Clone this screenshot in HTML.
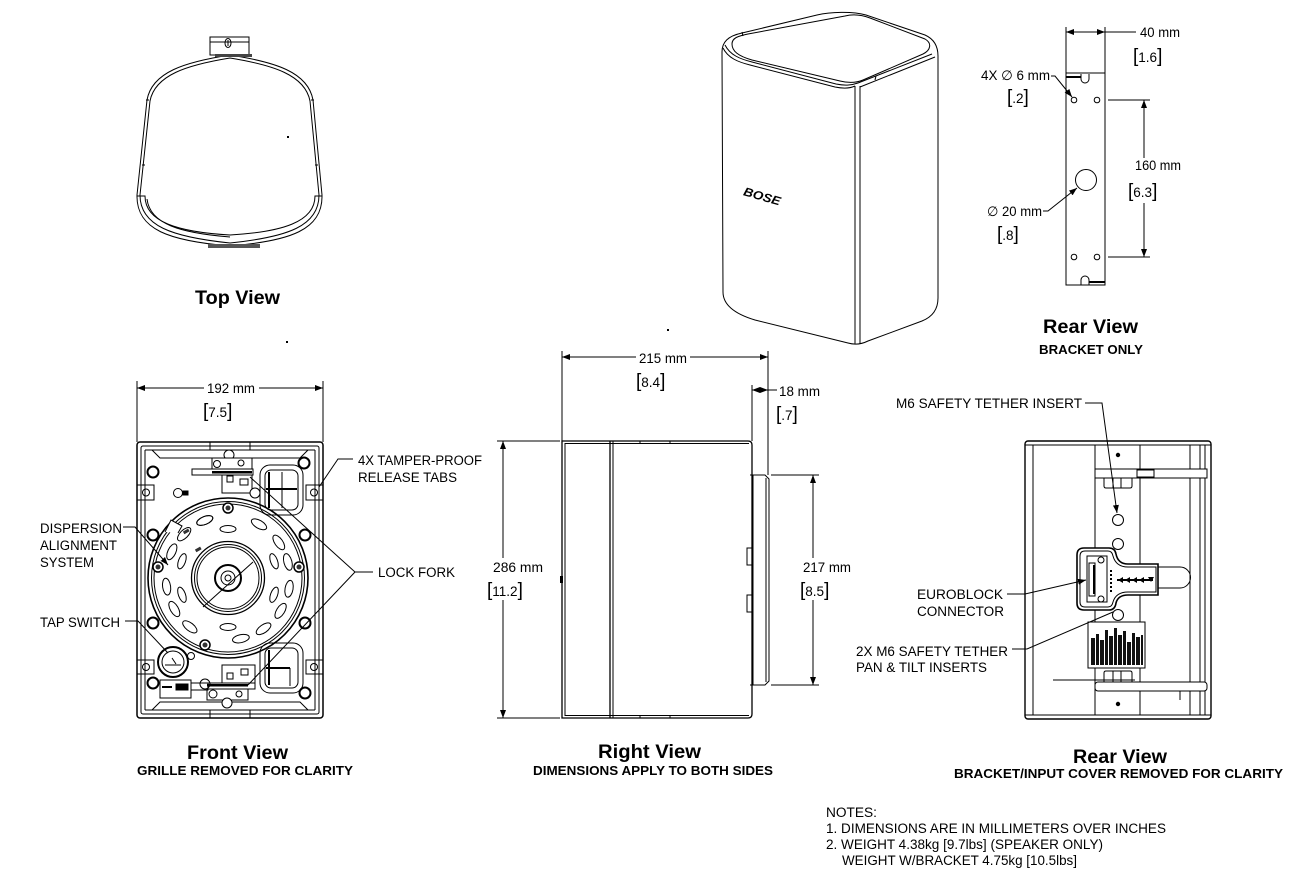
<!DOCTYPE html>
<html><head><meta charset="utf-8"><style>
html,body{margin:0;padding:0;background:#fff;}
svg{display:block;}
text{font-family:"Liberation Sans",Arial,"DejaVu Sans",sans-serif;fill:#000;}
.l{font-size:13.5px;}
.t{font-size:19px;font-weight:bold;}
.s{font-size:12.5px;font-weight:bold;}
.b{font-size:19px;}
</style></head><body>
<svg width="1300" height="877" viewBox="0 0 1300 877" xmlns="http://www.w3.org/2000/svg">
<defs>
<marker id="a" viewBox="0 0 8 6" refX="8" refY="3" markerWidth="8" markerHeight="6" markerUnits="userSpaceOnUse" orient="auto-start-reverse"><path d="M0,0 L8,3 L0,6 z" fill="#000"/></marker>
</defs>
<rect width="1300" height="877" fill="#fff"/>

<!-- ================= TOP VIEW ================= -->
<g fill="none" stroke="#000" stroke-width="1">
<rect x="210" y="37" width="39" height="18"/>
<line x1="210" y1="42" x2="249" y2="42"/>
<ellipse cx="228" cy="43" rx="3" ry="4.5"/>
<line x1="228" y1="40" x2="228" y2="46"/>
<path d="M147,100 C152,72 185,62 230,55 C275,62 308,72 313,100 L322,195 C323,230 290,241 230,246 C170,241 136,230 137,195 Z"/>
<path d="M150,101 C155,75 187,65 230,58 C273,65 305,75 310,101 L319,195 C319,226 288,237 230,243 C172,237 140,226 140,195 Z"/>
<path d="M137,196 H145 C145,222 178,232 230,235 C282,232 315,222 315,196 H322"/>
<path d="M147,199 C150,224 180,233 230,237"/>
<line x1="145" y1="165" x2="142" y2="165"/><line x1="315" y1="165" x2="318" y2="165"/>
<line x1="149" y1="100" x2="146" y2="100"/><line x1="311" y1="100" x2="314" y2="100"/>
</g>
<rect x="215" y="54" width="37" height="3" fill="#444"/>
<rect x="208" y="244" width="52" height="4" fill="#555"/>
<rect x="287" y="136" width="2" height="2" fill="#000"/>
<rect x="286" y="341" width="2" height="2" fill="#000"/>
<rect x="667" y="329" width="2" height="2" fill="#000"/>
<text class="t" x="195" y="304" textLength="85" lengthAdjust="spacingAndGlyphs">Top View</text>

<!-- ================= ISO SPEAKER ================= -->
<g fill="none" stroke="#000" stroke-width="1">
<path d="M723,292 L722,52 C722,42 728,36 742,33 L817,15 C830,12 852,11 866,15 L925,35 C934,39 938,46 938,56 L938,298 C938,310 932,317 922,321 L868,341 C862,344 855,345 848,343 L755,320 C735,314 723,305 723,292 Z"/>
<path d="M723,48 C728,58 738,62 750,65 L835,87 C845,89 851,88 855,86"/>
<path d="M725,45 C730,55 740,59 752,62 L836,84 C846,86 852,85 858,83 L932,54"/>
<path d="M860,87 L935,57"/>
<path d="M732,44 C732,38 738,36 748,34 L845,16 C853,14 862,15 870,18 L925,39 C932,43 931,50 923,54 L863,80 C856,83 848,83 840,81 L752,60 C738,56 732,51 732,44 Z"/>
<line x1="855" y1="86" x2="855" y2="344"/>
<line x1="860" y1="86" x2="860" y2="344"/>
<line x1="742" y1="32" x2="743" y2="36"/>
<line x1="875" y1="80" x2="876" y2="76"/>
</g>
<text x="742" y="200" font-size="12" font-weight="bold" font-style="italic" transform="rotate(16 760 200)" textLength="38" lengthAdjust="spacingAndGlyphs">BOSE</text>

<!-- ================= REAR VIEW BRACKET ONLY ================= -->
<g fill="none" stroke="#000" stroke-width="1">
<rect x="1066" y="73" width="39" height="212"/>
<line x1="1066" y1="27" x2="1066" y2="73"/>
<line x1="1105" y1="27" x2="1105" y2="73"/>
<line x1="1066" y1="32" x2="1105" y2="32" marker-start="url(#a)" marker-end="url(#a)"/>
<line x1="1105" y1="32" x2="1136" y2="32"/>
<circle cx="1074" cy="100" r="2.8"/><circle cx="1097" cy="100" r="2.8"/>
<circle cx="1074" cy="257" r="2.8"/><circle cx="1097" cy="257" r="2.8"/>
<circle cx="1086" cy="180" r="10.5"/>
<path d="M1081,74 V79 A4,4 0 0 0 1089,79 V74"/>
<path d="M1081,285 V280 A4,4 0 0 1 1089,280 V285"/>
<line x1="1108" y1="100" x2="1150" y2="100"/>
<line x1="1108" y1="257" x2="1150" y2="257"/>
<line x1="1144" y1="100" x2="1144" y2="158" marker-start="url(#a)"/>
<line x1="1144" y1="203" x2="1144" y2="257" marker-end="url(#a)"/>
<path d="M1051,76 H1055 L1072,97" marker-end="url(#a)"/>
<path d="M1043,211 H1048 L1077,188" marker-end="url(#a)"/>
</g>
<line x1="1066" y1="77" x2="1081" y2="77" stroke="#000" stroke-width="2"/>
<line x1="1089" y1="282" x2="1105" y2="282" stroke="#000" stroke-width="2"/>
<text class="l" x="1140" y="37" textLength="40" lengthAdjust="spacingAndGlyphs">40  mm</text>
<text class="l" x="1133" y="62"><tspan class="b">[</tspan>1.6<tspan class="b">]</tspan></text>
<text class="l" x="981" y="80" textLength="69" lengthAdjust="spacingAndGlyphs">4X ∅ 6  mm</text>
<text class="l" x="1007" y="103"><tspan class="b">[</tspan>.2<tspan class="b">]</tspan></text>
<text class="l" x="1135" y="170" textLength="46" lengthAdjust="spacingAndGlyphs">160 mm</text>
<text class="l" x="1128" y="197"><tspan class="b">[</tspan>6.3<tspan class="b">]</tspan></text>
<text class="l" x="987" y="216" textLength="55" lengthAdjust="spacingAndGlyphs">∅ 20 mm</text>
<text class="l" x="997" y="240"><tspan class="b">[</tspan>.8<tspan class="b">]</tspan></text>
<text class="t" x="1043" y="333" textLength="95" lengthAdjust="spacingAndGlyphs">Rear View</text>
<text class="s" x="1039" y="354" textLength="104" lengthAdjust="spacingAndGlyphs">BRACKET ONLY</text>

<!-- ================= FRONT VIEW ================= -->
<g fill="none" stroke="#000" stroke-width="1">
<line x1="137" y1="381" x2="137" y2="442"/>
<line x1="323" y1="381" x2="323" y2="442"/>
<line x1="137" y1="388" x2="204" y2="388" marker-start="url(#a)"/>
<line x1="259" y1="388" x2="323" y2="388" marker-end="url(#a)"/>
<rect x="137" y="442" width="186" height="276" rx="3" stroke-width="1.5"/>
<rect x="141" y="446" width="178" height="268" rx="2"/>
<line x1="145" y1="450" x2="145" y2="710"/><line x1="315" y1="450" x2="315" y2="710"/>
<path d="M145,450 H315 M152,450 L160,458 H300 L308,450"/>
<path d="M145,710 H315 M152,710 L160,702 H300 L308,710"/>
<path d="M210,442 V450 M250,442 V450 M210,710 V718 M250,710 V718"/>
</g>
<g fill="none" stroke="#000">
<g stroke-width="2">
<circle cx="153" cy="472" r="5.5"/><circle cx="304" cy="463" r="5.5"/>
<circle cx="153" cy="535" r="5.5"/><circle cx="305" cy="535" r="5.5"/>
<circle cx="153" cy="623" r="5.5"/><circle cx="305" cy="623" r="5.5"/>
<circle cx="153" cy="683" r="5.5"/><circle cx="305" cy="693" r="5.5"/>
</g>
<g stroke-width="1">
<rect x="137" y="485" width="17" height="15"/><circle cx="146" cy="492.5" r="3.5"/>
<rect x="137" y="660" width="17" height="14"/><circle cx="146" cy="667" r="3.5"/>
<rect x="306" y="485" width="17" height="15"/><circle cx="314" cy="492.5" r="3.5"/>
<rect x="306" y="660" width="17" height="14"/><circle cx="314" cy="667" r="3.5"/>
</g>
</g>
<!-- speaker plate -->
<g fill="none" stroke="#000" stroke-width="1">
<circle cx="228" cy="578" r="80" stroke-width="1.6"/>
<circle cx="228" cy="578" r="76.5"/>
<circle cx="228" cy="578" r="74"/>
<path d="M165,532 L171,520 L182,526 L178,533" fill="#fff"/>
<circle cx="228" cy="578" r="36.5" stroke-width="1.3"/>
<circle cx="228" cy="578" r="33.5"/>
<circle cx="228" cy="578" r="31"/>
<circle cx="228" cy="578" r="13" stroke-width="2"/>
<circle cx="228" cy="578" r="7"/>
<circle cx="228" cy="578" r="3"/>
<line x1="203" y1="607" x2="253" y2="562"/>
<g>
<ellipse rx="8.5" ry="4" transform="rotate(-60 228 578) translate(290 578) rotate(90)"/>
<ellipse rx="8.5" ry="4" transform="rotate(-35 228 578) translate(290 578) rotate(90)"/>
<ellipse rx="8.5" ry="4" transform="rotate(-15 228 578) translate(290 578) rotate(90)"/>
<ellipse rx="8.5" ry="4" transform="rotate(10 228 578) translate(290 578) rotate(90)"/>
<ellipse rx="8.5" ry="4" transform="rotate(32 228 578) translate(290 578) rotate(90)"/>
<ellipse rx="8.5" ry="4" transform="rotate(55 228 578) translate(290 578) rotate(90)"/>
<ellipse rx="8.5" ry="4" transform="rotate(78 228 578) translate(290 578) rotate(90)"/>
<ellipse rx="8.5" ry="4" transform="rotate(128 228 578) translate(290 578) rotate(90)"/>
<ellipse rx="8.5" ry="4" transform="rotate(150 228 578) translate(290 578) rotate(90)"/>
<ellipse rx="8.5" ry="4" transform="rotate(172 228 578) translate(290 578) rotate(90)"/>
<ellipse rx="8.5" ry="4" transform="rotate(205 228 578) translate(290 578) rotate(90)"/>
<ellipse rx="8.5" ry="4" transform="rotate(225 228 578) translate(290 578) rotate(90)"/>
<ellipse rx="8.5" ry="4" transform="rotate(248 228 578) translate(290 578) rotate(90)"/>
<ellipse rx="8.5" ry="4" transform="rotate(-112 228 578) translate(290 578) rotate(90)"/>
<ellipse rx="8" ry="3.5" transform="rotate(-90 228 578) translate(277 578) rotate(90)"/>
<ellipse rx="8" ry="3.5" transform="rotate(-20 228 578) translate(277 578) rotate(90)"/>
<ellipse rx="8" ry="3.5" transform="rotate(20 228 578) translate(277 578) rotate(90)"/>
<ellipse rx="8" ry="3.5" transform="rotate(90 228 578) translate(277 578) rotate(90)"/>
<ellipse rx="8" ry="3.5" transform="rotate(160 228 578) translate(277 578) rotate(90)"/>
<ellipse rx="8" ry="3.5" transform="rotate(200 228 578) translate(277 578) rotate(90)"/>
</g>
</g>
<g fill="#fff" stroke="#000" stroke-width="1.5">
<circle cx="228" cy="508" r="5"/><circle cx="158" cy="567" r="5"/>
<circle cx="299" cy="567" r="5"/><circle cx="205" cy="645" r="5"/>
</g>
<g fill="#333">
<circle cx="228" cy="508" r="2.5"/><circle cx="158" cy="567" r="2.5"/>
<circle cx="299" cy="567" r="2.5"/><circle cx="205" cy="645" r="2.5"/>
<rect x="183" y="530" width="6" height="3" transform="rotate(-30 186 531)"/>
<rect x="195" y="548" width="6" height="3" transform="rotate(-30 198 549)"/>
</g>
<!-- top latch -->
<g fill="none" stroke="#000" stroke-width="1">
<circle cx="229" cy="455" r="5" fill="#fff"/>
<rect x="212" y="458" width="40" height="12" fill="#fff"/>
<circle cx="217" cy="464" r="3.5"/><circle cx="241" cy="463" r="3"/>
<rect x="192" y="469" width="61" height="6" fill="#fff"/>
<rect x="222" y="475" width="30" height="18" fill="#fff"/>
<rect x="227" y="476" width="6" height="6"/>
<rect x="240" y="479" width="8" height="6"/>
<circle cx="255" cy="493" r="5" fill="#fff"/>
<circle cx="178" cy="493" r="4.5"/>
<rect x="183" y="491" width="5" height="4" fill="#000"/>
<rect x="260" y="465" width="43" height="50" rx="10"/>
<rect x="265" y="470" width="33" height="40" rx="6"/>
<line x1="269" y1="472" x2="269" y2="508" stroke-width="2"/>
<line x1="282" y1="472" x2="282" y2="508"/>
<line x1="266" y1="489" x2="297" y2="489" stroke-width="2"/>
</g>
<rect x="212" y="471" width="40" height="2.5" fill="#000"/>
<!-- bottom latch / tap switch -->
<g fill="none" stroke="#000" stroke-width="1">
<rect x="260" y="643" width="43" height="50" rx="10"/>
<rect x="265" y="648" width="33" height="40" rx="6"/>
<line x1="269" y1="650" x2="269" y2="685" stroke-width="2"/>
<line x1="266" y1="668" x2="290" y2="668" stroke-width="2"/>
<line x1="290" y1="668" x2="290" y2="686"/>
<rect x="222" y="665" width="33" height="20" fill="#fff"/>
<rect x="227" y="673" width="6" height="6"/>
<rect x="241" y="669" width="7" height="6"/>
<rect x="208" y="683" width="47" height="6" fill="#fff"/>
<rect x="207" y="689" width="41" height="11" fill="#fff"/>
<circle cx="213" cy="694" r="4"/><circle cx="239" cy="694" r="3"/>
<circle cx="227" cy="703" r="5" fill="#fff"/>
<circle cx="205" cy="684" r="5"/>
<circle cx="173" cy="662" r="15" stroke-width="2"/>
<circle cx="173" cy="662" r="11"/>
<circle cx="191" cy="656" r="3.5"/>
<path d="M165,665 H181 M172,658 L176,664"/>
<rect x="160" y="680" width="31" height="18"/>
<rect x="191" y="683" width="17" height="7"/>
<line x1="162" y1="687" x2="172" y2="687" stroke-width="2"/>
<rect x="176" y="684" width="12" height="6" fill="#000"/>
</g>
<rect x="207" y="684" width="41" height="2.5" fill="#000"/>
<!-- leaders -->
<g fill="none" stroke="#000" stroke-width="1">
<path d="M123,527 H135 L168,565" marker-end="url(#a)"/>
<path d="M125,621 H138 L168,653"/>
<path d="M353,459 H338 L319,487"/>
<path d="M373,572 H355 L250,477 M355,572 L248,685"/>
</g>
<text class="l" x="207" y="393" textLength="48" lengthAdjust="spacingAndGlyphs">192 mm</text>
<text class="l" x="203" y="417"><tspan class="b">[</tspan>7.5<tspan class="b">]</tspan></text>
<text class="l" x="358" y="465" textLength="124" lengthAdjust="spacingAndGlyphs">4X TAMPER-PROOF</text>
<text class="l" x="358" y="482" textLength="99" lengthAdjust="spacingAndGlyphs">RELEASE TABS</text>
<text class="l" x="378" y="577" textLength="77" lengthAdjust="spacingAndGlyphs">LOCK FORK</text>
<text class="l" x="40" y="533" textLength="82" lengthAdjust="spacingAndGlyphs">DISPERSION</text>
<text class="l" x="40" y="550" textLength="77" lengthAdjust="spacingAndGlyphs">ALIGNMENT</text>
<text class="l" x="40" y="567" textLength="54" lengthAdjust="spacingAndGlyphs">SYSTEM</text>
<text class="l" x="40" y="627" textLength="80" lengthAdjust="spacingAndGlyphs">TAP SWITCH</text>
<text class="t" x="187" y="759" textLength="101" lengthAdjust="spacingAndGlyphs">Front View</text>
<text class="s" x="137" y="775" textLength="216" lengthAdjust="spacingAndGlyphs">GRILLE REMOVED FOR CLARITY</text>

<!-- ================= RIGHT VIEW ================= -->
<g fill="none" stroke="#000" stroke-width="1">
<path d="M562,441 H748 Q752,441 752,445 V714 Q752,718 748,718 H562 Z" stroke-width="1.3"/>
<line x1="565" y1="443" x2="565" y2="716"/>
<line x1="610" y1="441" x2="610" y2="718" stroke-width="1.3"/>
<line x1="613" y1="441" x2="613" y2="718"/>
<line x1="565" y1="443.5" x2="749" y2="443.5"/>
<line x1="565" y1="715.5" x2="749" y2="715.5"/>
<path d="M640,441 V444 M670,441 V444 M640,715 V718 M670,715 V718"/>
<path d="M750,475 H765 L769,479 V681 L765,685 H750"/>
<path d="M753,475 V685 M766,478 V682"/>
<rect x="747" y="548" width="5" height="17"/>
<rect x="747" y="595" width="5" height="17"/>
<line x1="562" y1="351" x2="562" y2="441"/>
<line x1="768" y1="351" x2="768" y2="475"/>
<line x1="562" y1="357" x2="636" y2="357" marker-start="url(#a)"/>
<line x1="690" y1="357" x2="768" y2="357" marker-end="url(#a)"/>
<line x1="752" y1="385" x2="752" y2="441"/>
<line x1="752" y1="390" x2="768" y2="390" marker-start="url(#a)" marker-end="url(#a)"/>
<line x1="768" y1="390" x2="777" y2="390"/>
<line x1="497" y1="441" x2="560" y2="441"/>
<line x1="497" y1="718" x2="560" y2="718"/>
<line x1="503" y1="441" x2="503" y2="558" marker-start="url(#a)"/>
<line x1="503" y1="600" x2="503" y2="718" marker-end="url(#a)"/>
<line x1="771" y1="475" x2="819" y2="475"/>
<line x1="771" y1="685" x2="819" y2="685"/>
<line x1="813" y1="475" x2="813" y2="558" marker-start="url(#a)"/>
<line x1="813" y1="600" x2="813" y2="685" marker-end="url(#a)"/>
</g>
<rect x="560" y="576" width="3" height="7" fill="#000"/>
<text class="l" x="639" y="363" textLength="48" lengthAdjust="spacingAndGlyphs">215 mm</text>
<text class="l" x="636" y="387"><tspan class="b">[</tspan>8.4<tspan class="b">]</tspan></text>
<text class="l" x="779" y="396" textLength="41" lengthAdjust="spacingAndGlyphs">18 mm</text>
<text class="l" x="776" y="420"><tspan class="b">[</tspan>.7<tspan class="b">]</tspan></text>
<text class="l" x="493" y="572" textLength="50" lengthAdjust="spacingAndGlyphs">286 mm</text>
<text class="l" x="487" y="596"><tspan class="b">[</tspan>11.2<tspan class="b">]</tspan></text>
<text class="l" x="803" y="572" textLength="48" lengthAdjust="spacingAndGlyphs">217 mm</text>
<text class="l" x="800" y="596"><tspan class="b">[</tspan>8.5<tspan class="b">]</tspan></text>
<text class="t" x="598" y="758" textLength="103" lengthAdjust="spacingAndGlyphs">Right View</text>
<text class="s" x="533" y="775" textLength="240" lengthAdjust="spacingAndGlyphs">DIMENSIONS APPLY TO BOTH SIDES</text>

<!-- ================= REAR VIEW (speaker) ================= -->
<g fill="none" stroke="#000" stroke-width="1">
<rect x="1025" y="441" width="186" height="278" rx="3" stroke-width="1.4"/>
<line x1="1033" y1="445" x2="1033" y2="715"/>
<line x1="1025" y1="445" x2="1211" y2="445"/>
<line x1="1025" y1="715" x2="1211" y2="715"/>
<line x1="1095" y1="445" x2="1095" y2="715"/>
<line x1="1140" y1="445" x2="1140" y2="715"/>
<line x1="1190" y1="445" x2="1190" y2="715"/>
<line x1="1200" y1="445" x2="1200" y2="715"/>
<line x1="1205" y1="445" x2="1205" y2="715"/>
<rect x="1095" y="469" width="112" height="9" fill="#fff"/>
<rect x="1137" y="470" width="17" height="7"/>
<path d="M1104,478 V486 Q1104,488 1106,488 H1130 Q1132,488 1132,486 V478 M1113,478 V488 M1121,478 V488"/>
<rect x="1095" y="682" width="112" height="9" rx="3" fill="#fff"/>
<path d="M1104,682 V673 Q1104,671 1106,671 H1130 Q1132,671 1132,673 V682 M1113,671 V682 M1121,671 V682"/>
<line x1="1053" y1="680" x2="1135" y2="680"/>
<line x1="1180" y1="691" x2="1180" y2="700"/>
<circle cx="1118" cy="520" r="5.5"/>
<circle cx="1118" cy="544" r="5.5"/>
<circle cx="1118" cy="615" r="5.5"/>
<path d="M1084,548 H1109 Q1115,548 1116,554 Q1118,564 1128,564 H1158 V595 H1128 Q1118,595 1116,603 Q1115,610 1109,610 H1084 Q1077,610 1077,603 V555 Q1077,548 1084,548 Z" stroke-width="1.6" fill="#fff"/>
<path d="M1085,551 H1108 Q1112,551 1113,556 Q1116,567 1128,567 H1156 V592 H1128 Q1116,592 1113,602 Q1112,607 1108,607 H1085 Q1080,607 1080,602 V556 Q1080,551 1085,551 Z"/>
<path d="M1158,567 H1180 A10.5,10.5 0 0 1 1180,588 H1158"/>
<rect x="1087" y="556" width="20" height="46"/>
<rect x="1089" y="563" width="6" height="33"/>
<circle cx="1101" cy="560" r="3"/><circle cx="1101" cy="599" r="3"/>
<line x1="1111" y1="570" x2="1111" y2="592" stroke-dasharray="2 2" stroke-width="2"/>
</g>
<g fill="#000">
<rect x="1093" y="565" width="2" height="29"/>
<path d="M1118,580 l5,-3 v6 z M1125,580 l5,-3 v6 z M1132,580 l5,-3 v6 z M1139,580 l5,-3 v6 z M1148,577 h6 l-3,5 z"/>
<rect x="1117" y="579" width="36" height="2"/>
<circle cx="1118" cy="455" r="2.2"/>
<circle cx="1118" cy="704" r="2.2"/>
</g>
<rect x="1088" y="622" width="57" height="46" fill="#fff" stroke="#000" stroke-width="1"/>
<g fill="#111">
<rect x="1091" y="638" width="4" height="27"/><rect x="1096" y="634" width="3" height="31"/>
<rect x="1100" y="640" width="4" height="25"/><rect x="1105" y="630" width="3" height="35"/>
<rect x="1109" y="636" width="4" height="29"/><rect x="1114" y="628" width="3" height="37"/>
<rect x="1118" y="635" width="4" height="30"/><rect x="1123" y="631" width="3" height="34"/>
<rect x="1127" y="642" width="4" height="23"/><rect x="1132" y="633" width="3" height="32"/>
<rect x="1136" y="637" width="4" height="28"/><rect x="1141" y="635" width="2" height="30"/>
</g>
<g fill="none" stroke="#000" stroke-width="1">
<path d="M1085,403 H1102 L1117,513" marker-end="url(#a)"/>
<path d="M1007,594 H1025 L1086,580" marker-end="url(#a)"/>
<path d="M1012,649 H1027 L1113,612"/>
</g>
<text class="l" x="896" y="408" textLength="186" lengthAdjust="spacingAndGlyphs">M6 SAFETY TETHER INSERT</text>
<text class="l" x="917" y="599" textLength="86" lengthAdjust="spacingAndGlyphs">EUROBLOCK</text>
<text class="l" x="917" y="616" textLength="87" lengthAdjust="spacingAndGlyphs">CONNECTOR</text>
<text class="l" x="856" y="656" textLength="152" lengthAdjust="spacingAndGlyphs">2X M6 SAFETY TETHER</text>
<text class="l" x="856" y="672" textLength="131" lengthAdjust="spacingAndGlyphs">PAN &amp; TILT INSERTS</text>
<text class="t" x="1073" y="763" textLength="94" lengthAdjust="spacingAndGlyphs">Rear View</text>
<text class="s" x="954" y="778" textLength="329" lengthAdjust="spacingAndGlyphs">BRACKET/INPUT COVER REMOVED FOR CLARITY</text>

<!-- ================= NOTES ================= -->
<text class="l" x="826" y="817" textLength="51" lengthAdjust="spacingAndGlyphs">NOTES:</text>
<text class="l" x="826" y="833" textLength="340" lengthAdjust="spacingAndGlyphs">1. DIMENSIONS ARE IN MILLIMETERS OVER INCHES</text>
<text class="l" x="826" y="849" textLength="277" lengthAdjust="spacingAndGlyphs">2. WEIGHT 4.38kg [9.7lbs] (SPEAKER ONLY)</text>
<text class="l" x="842" y="865" textLength="235" lengthAdjust="spacingAndGlyphs">WEIGHT W/BRACKET 4.75kg [10.5lbs]</text>
</svg>
</body></html>
